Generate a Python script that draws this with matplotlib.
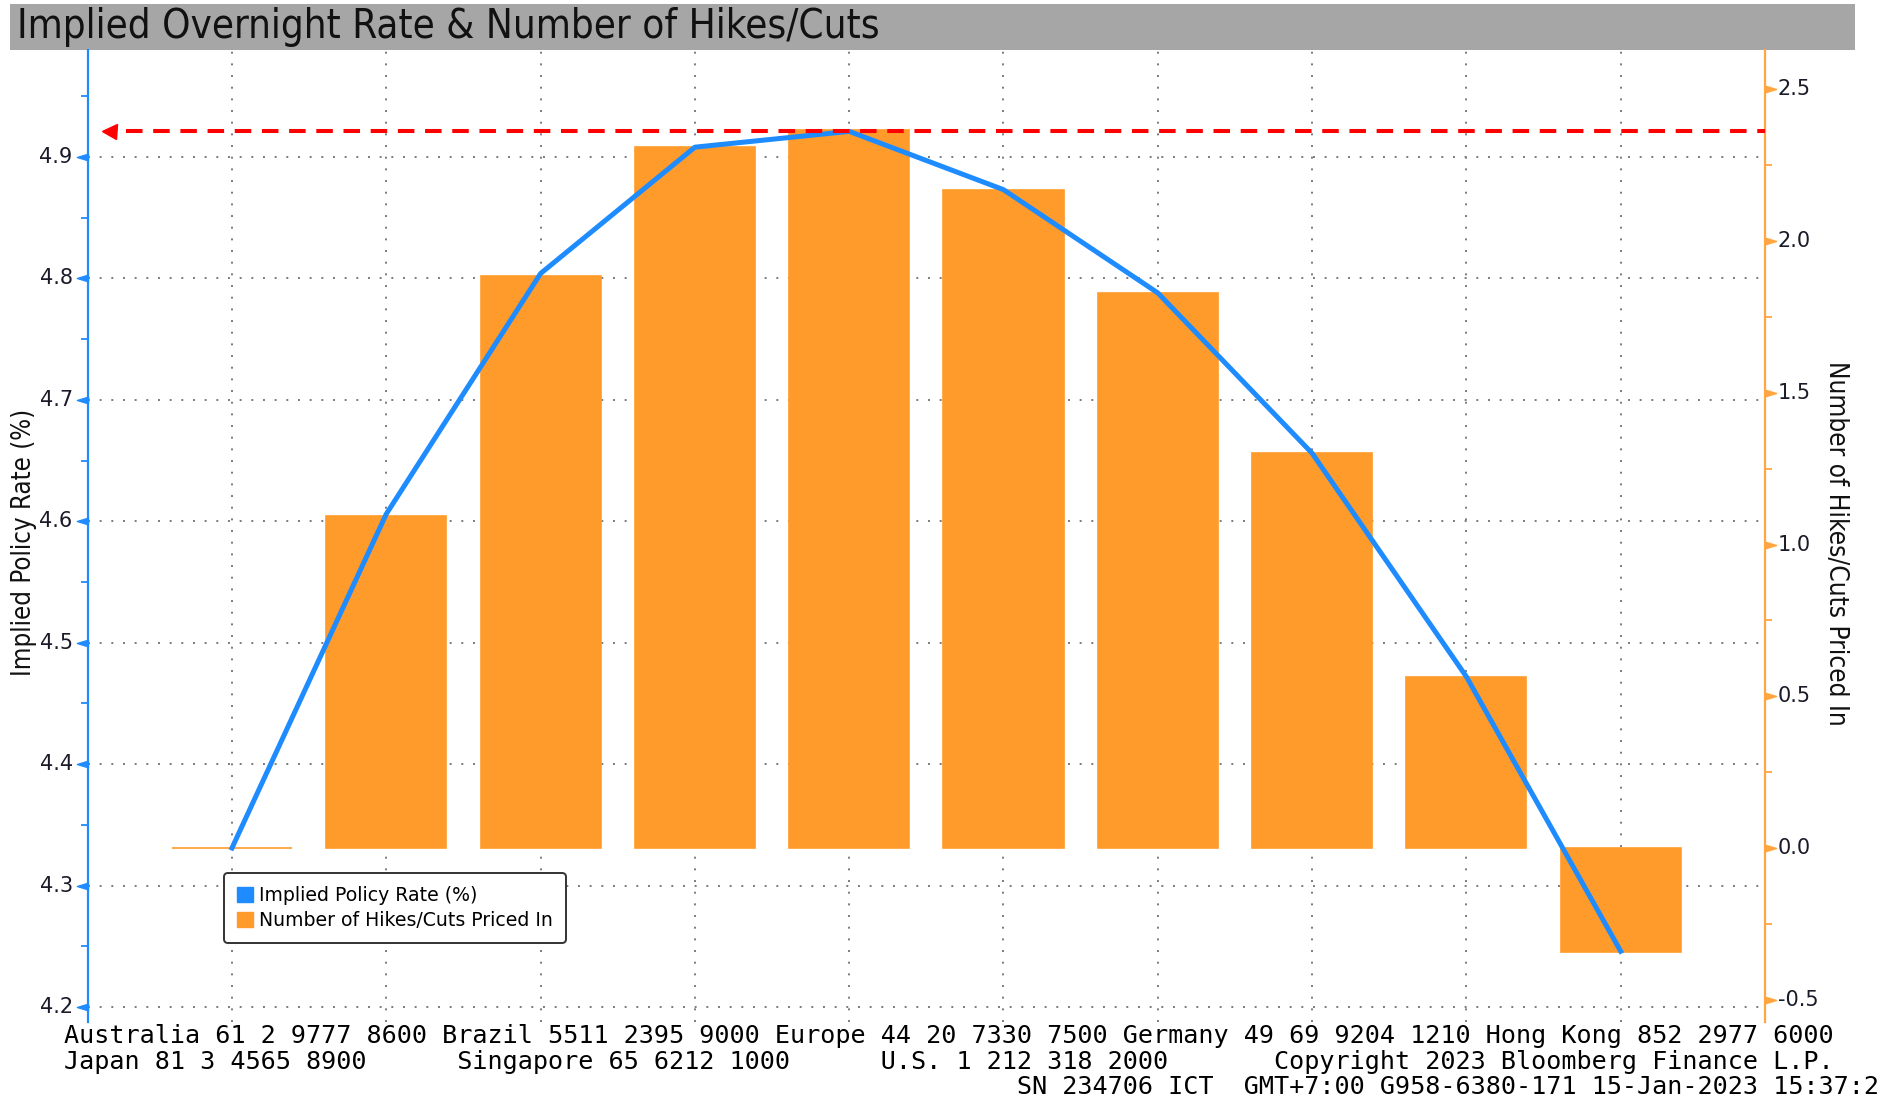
import numpy as np
import matplotlib
matplotlib.use("Agg")
import matplotlib.pyplot as plt
import matplotlib.patches as mpatches
from matplotlib.path import Path
from matplotlib.transforms import blended_transform_factory
from matplotlib import font_manager

# ---------------- data ----------------
positions = np.arange(10)  # successive policy meetings
implied_rate = [4.331, 4.606, 4.804, 4.908, 4.921, 4.873, 4.788, 4.656, 4.472, 4.246]
hikes_cuts = [0.0, 1.093, 1.886, 2.310, 2.364, 2.168, 1.830, 1.303, 0.563, -0.343]
left_ticks = [4.2, 4.3, 4.4, 4.5, 4.6, 4.7, 4.8, 4.9]
right_ticks = [-0.5, 0.0, 0.5, 1.0, 1.5, 2.0, 2.5]
title = "Implied Overnight Rate & Number of Hikes/Cuts"
left_label = "Implied Policy Rate (%)"
right_label = "Number of Hikes/Cuts Priced In"
legend_labels = ["Implied Policy Rate (%)", "Number of Hikes/Cuts Priced In"]
footer_lines = [
    "Australia 61 2 9777 8600 Brazil 5511 2395 9000 Europe 44 20 7330 7500 Germany 49 69 9204 1210 Hong Kong 852 2977 6000",
    "Japan 81 3 4565 8900      Singapore 65 6212 1000      U.S. 1 212 318 2000       Copyright 2023 Bloomberg Finance L.P.",
    "                                                               SN 234706 ICT  GMT+7:00 G958-6380-171 15-Jan-2023 15:37:2",
]

# ---------------- style ----------------
BLUE = "#1E8CFF"
ORANGE = "#FF9B2B"
ORANGE_AX = "#FFA640"
RED = "#FF0000"
GRID = "#7a7a7a"
TICKCOL = "#1a1a28"
TICKSIZE = 15


def narrow_props():
    try:
        font_manager.findfont(font_manager.FontProperties(family="Liberation Sans Narrow"),
                              fallback_to_default=False)
        return dict(family="Liberation Sans Narrow")
    except Exception:
        pass
    fp = font_manager.FontProperties(family="DejaVu Sans", stretch="condensed")
    try:
        p = font_manager.findfont(fp, fallback_to_default=False)
        if "Condensed" in p:
            return dict(family="DejaVu Sans", fontstretch="condensed")
    except Exception:
        pass
    return dict(family="DejaVu Sans")


NARROW = narrow_props()

W, H = 1888, 1097
fig = plt.figure(figsize=(W / 100, H / 100), dpi=100)
fig.patch.set_facecolor("white")

ax_l, ax_r, ax_t, ax_b = 88, 1765.3, 50, 1021.7
ax = fig.add_axes([ax_l / W, 1 - ax_b / H, (ax_r - ax_l) / W, (ax_b - ax_t) / H])
ax2 = ax.twinx()

ax.set_xlim(-0.933, 9.937)
ax.set_ylim(4.188, 4.988)
ax2.set_ylim(-0.5715, 2.629)

# grid (behind the bars)
ax.set_xticks(positions)
ax.set_yticks(left_ticks)
ax.set_yticks(np.arange(4.25, 4.95, 0.1), minor=True)
ax.set_yticklabels([])
ax.grid(True, which="major", color=GRID, linestyle=(0, (1, 5)), linewidth=1.4)
ax.tick_params(axis="x", length=0, labelbottom=False)
ax.tick_params(axis="y", which="major", length=0)
ax.tick_params(axis="y", which="minor", length=5, width=1.3, color=BLUE, direction="out")

ax2.set_yticks(right_ticks)
ax2.set_yticks(np.arange(-0.25, 2.5, 0.5), minor=True)
ax2.set_yticklabels([])
ax2.tick_params(axis="y", which="major", length=0)
ax2.tick_params(axis="y", which="minor", length=5, width=1.3, color=ORANGE_AX, direction="out")

# tick labels as explicit texts placed on each axis' own scale
for v in left_ticks:
    ax.annotate(f"{v:.1f}", xy=(0, v), xycoords=ax.get_yaxis_transform(),
                xytext=(-11, 0), textcoords="offset points", ha="right", va="center",
                fontsize=TICKSIZE, color=TICKCOL, annotation_clip=False)
for v in right_ticks:
    ax2.annotate(f"{v:.1f}", xy=(1, v), xycoords=ax2.get_yaxis_transform(),
                 xytext=(9, 0), textcoords="offset points", ha="left", va="center",
                 fontsize=TICKSIZE, color=TICKCOL, annotation_clip=False)

for s in ["top", "bottom", "right"]:
    ax.spines[s].set_visible(False)
ax.spines["left"].set_color(BLUE)
ax.spines["left"].set_linewidth(1.6)
for s in ["top", "bottom", "left"]:
    ax2.spines[s].set_visible(False)
ax2.spines["right"].set_color(ORANGE_AX)
ax2.spines["right"].set_linewidth(1.6)

# triangle tick markers
tri_left = Path([(0, 0.3), (-1, 0), (0, -0.3), (0, 0.3)],
                [Path.MOVETO, Path.LINETO, Path.LINETO, Path.CLOSEPOLY])
tri_right = Path([(0, 0.3), (1, 0), (0, -0.3), (0, 0.3)],
                 [Path.MOVETO, Path.LINETO, Path.LINETO, Path.CLOSEPOLY])
ax.plot(np.zeros(len(left_ticks)), left_ticks, transform=ax.get_yaxis_transform(),
        marker=tri_left, markersize=16, color=BLUE, linestyle="none", clip_on=False, zorder=6)
ax2.plot(np.ones(len(right_ticks)), right_ticks, transform=ax2.get_yaxis_transform(),
         marker=tri_right, markersize=16, color=ORANGE_AX, linestyle="none", clip_on=False, zorder=6)

# bars (right scale)
ax2.bar(positions, hikes_cuts, width=0.778, color=ORANGE, edgecolor=ORANGE, linewidth=1.2, zorder=2)

# implied rate line (left scale) drawn above bars
ax2.plot(positions, implied_rate, transform=ax.transData, color=BLUE, linewidth=3.6,
         solid_joinstyle="round", zorder=4)

# red dashed line at peak rate with arrow
peak = max(implied_rate)
trans = blended_transform_factory(ax2.transAxes, ax.transData)
ax2.plot([0.0227, 1.0], [peak, peak], transform=trans, color=RED, linewidth=2.9,
         dashes=(4.1, 2.65), zorder=5, clip_on=False)
ax2.plot([0.0125], [peak], transform=trans, marker="<", markersize=10.8, color=RED,
         linestyle="none", zorder=5, clip_on=False)

# axis labels
ylab_l = fig.text(24 / W, 1 - 542 / H, left_label, rotation=90, ha="center", va="center",
                  fontsize=18, color="#111111", **NARROW)
ylab_r = fig.text(1836 / W, 1 - 543 / H, right_label, rotation=270, ha="center", va="center",
                  fontsize=18, color="#111111", **NARROW)

# legend
handles = [mpatches.Patch(color=BLUE, label=legend_labels[0]),
           mpatches.Patch(color=ORANGE, label=legend_labels[1])]
leg = ax2.legend(handles=handles, loc="upper left", bbox_to_anchor=(0.0811, 0.153),
                 borderaxespad=0, fontsize=13.6, handlelength=0.85, handleheight=0.85,
                 handletextpad=0.3, labelspacing=0.3, borderpad=0.7, fancybox=True,
                 framealpha=1, facecolor="white", edgecolor="#333333")
leg.get_frame().set_linewidth(1.4)
leg.set_zorder(10)

# title bar
fig.add_artist(mpatches.Rectangle((10 / W, 1 - 50 / H), (1855 - 10) / W, 46 / H,
                                  transform=fig.transFigure, facecolor="#a6a6a6",
                                  edgecolor="none", zorder=0))
ttl = fig.text(17 / W, 1 - 27 / H, title, ha="left", va="center", fontsize=28,
               color="#111111", zorder=2, **NARROW)

# footer
baselines = [1043, 1069, 1094]
footer_texts = []
for line, yb in zip(footer_lines, baselines):
    footer_texts.append(fig.text(64 / W, 1 - yb / H, line, ha="left", va="baseline",
                                 fontsize=18, family="DejaVu Sans Mono", color="#000000"))

# fit text extents to the reference's measured lengths (pixels)
fig.canvas.draw()
r = fig.canvas.get_renderer()
fits = [(ttl, 863, False), (ylab_l, 268, True), (ylab_r, 366, True), (footer_texts[0], 1762, False)]
for txt, target, use_h in fits:
    bb = txt.get_window_extent(r)
    cur = bb.height if use_h else bb.width
    txt.set_fontsize(txt.get_fontsize() * target / cur)
for t in footer_texts[1:]:
    t.set_fontsize(footer_texts[0].get_fontsize())

fig.savefig("out.png", dpi=100)
